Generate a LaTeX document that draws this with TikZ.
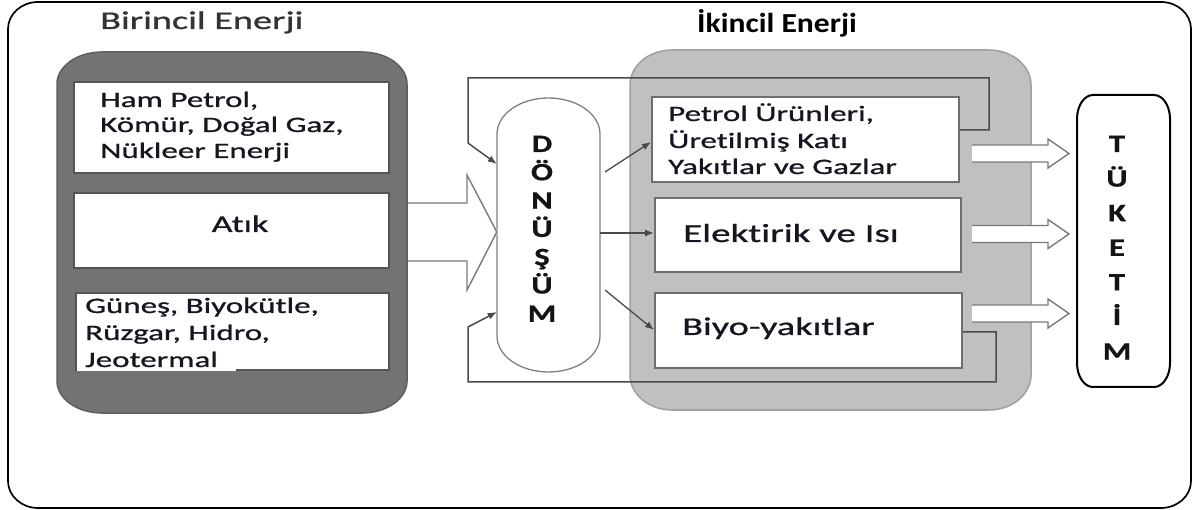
\documentclass[tikz,border=0pt]{standalone}
\usepackage{fontspec}
\setmainfont{Carlito}[FakeStretch=1.5, FakeBold=0.9, Ligatures=NoCommon]
\newfontfamily\titlefont{Carlito}[FakeStretch=1.15, Ligatures=NoCommon]
\newfontfamily\letterfont{Carlito}[FakeStretch=1.3, FakeBold=0.8, Ligatures=NoCommon]
\usetikzlibrary{arrows.meta}
\definecolor{dkfill}{HTML}{737373}
\definecolor{dkline}{HTML}{5E5E5E}
\definecolor{ltfill}{HTML}{C0C0C0}
\definecolor{ltline}{HTML}{A0A0A0}
\definecolor{bxline}{HTML}{555555}
\definecolor{txt}{HTML}{161620}
\definecolor{ttl}{HTML}{333333}
\definecolor{conn}{HTML}{4A4A4A}
\definecolor{arrline}{HTML}{7A7A7A}
% elliptical rounded rectangle: options, x1, y1, x2, y2, rx, ry
\newcommand\ERect[7]{\path[#1] (#2+#6,#3) -- (#4-#6,#3)
  arc[start angle=270,end angle=360,x radius=#6,y radius=#7] -- (#4,#5-#7)
  arc[start angle=0,end angle=90,x radius=#6,y radius=#7] -- (#2+#6,#5)
  arc[start angle=90,end angle=180,x radius=#6,y radius=#7] -- (#2,#3+#7)
  arc[start angle=180,end angle=270,x radius=#6,y radius=#7] -- cycle;}
\newcommand\OutArr[1]{%
  \fill[white] (972,#1-8.5) -- (1048,#1-8.5) -- (1048,#1-14.5) -- (1069,#1)
     -- (1048,#1+14.5) -- (1048,#1+8.5) -- (972,#1+8.5) -- cycle;
  \draw[outarrow] (972,#1-8.5) -- (1048,#1-8.5) -- (1048,#1-14.5) -- (1069,#1)
     -- (1048,#1+14.5) -- (1048,#1+8.5) -- (972,#1+8.5);}
\begin{document}
\begin{tikzpicture}[x=1pt,y=-1pt,
  wboxL/.style={draw=bxline, fill=white, line width=2pt, inner sep=0, rectangle},
  wboxR/.style={draw=bxline!85, fill=white, line width=2pt, inner sep=0, rectangle},
  bodytext/.style={anchor=base west, inner sep=0, text=txt, font=\fontsize{22}{26}\selectfont},
  bigtext/.style={bodytext, font=\fontsize{25.5}{30}\selectfont},
  letter/.style={anchor=base, inner sep=0, text=black!92, font=\letterfont\bfseries\fontsize{25}{29}\selectfont},
  loopline/.style={draw=conn, line width=1.5pt, -{Latex[length=9pt,width=7pt]}},
  thin/.style={draw=conn, line width=1.3pt, -{Latex[length=9pt,width=7pt]}},
  outarrow/.style={draw=arrline, line width=1.4pt, line join=miter},
  bigarrow/.style={draw=arrline, line width=1.4pt},
]
\useasboundingbox (0,0) rectangle (1194,510);
% outer frame
\ERect{draw=black, line width=1.7pt}{8}{2}{1191}{508}{30}{27}
% titles
\node[anchor=base west, inner sep=0, text=ttl, font=\fontsize{25.5}{30}\selectfont] (bir) at (100,29) {Birincil Enerji};
\node[anchor=base west, inner sep=0, text=black, font=\titlefont\bfseries\fontsize{27.5}{32}\selectfont] (ikin) at (697,33) {İkincil Enerji};
% left dark container
\ERect{fill=dkfill, draw=dkline, line width=1.5pt}{57}{52}{407}{413}{45}{32}
\node[wboxL, minimum width=315pt, minimum height=91pt] (hp) at (231.5,127.5) {};
\node[wboxL, minimum width=315pt, minimum height=75pt] (atik) at (231.5,230.5) {};
\node[wboxL, minimum width=313pt, minimum height=77pt] (gun) at (232.5,331.5) {};
\fill[white] (77,356) rectangle (236,371.5);
\node[bodytext] (hp1) at (100,107) {Ham Petrol,};
\node[bodytext] (hp2) at (100,132) {Kömür, Doğal Gaz,};
\node[bodytext] (hp3) at (100,158) {Nükleer Enerji};
\node[anchor=base, inner sep=0, text=txt, font=\fontsize{24}{28}\selectfont] (atikt) at (240,232) {Atık};
\node[bodytext] (gn1) at (85,313) {Güneş, Biyokütle,};
\node[bodytext] (gn2) at (85,340) {Rüzgar, Hidro,};
\node[bodytext] (gn3) at (85,367) {Jeotermal};
% right light container
\ERect{fill=ltfill, draw=ltline, line width=1.5pt}{630}{50}{1031}{410}{42}{35}
% boxes of secondary energy
\node[wboxR, minimum width=307pt, minimum height=85pt] (pet) at (805.5,139.5) {};
\node[wboxR, minimum width=306pt, minimum height=74pt] (elk) at (808,235) {};
\node[wboxR, minimum width=307pt, minimum height=75pt] (biyo) at (808.5,330.5) {};
\node[bodytext] (pt1) at (668,121) {Petrol Ürünleri,};
\node[bodytext] (pt2) at (668,148) {Üretilmiş Katı};
\node[bodytext] (pt3) at (668,174) {Yakıtlar ve Gazlar};
\node[bodytext, font=\fontsize{26}{30}\selectfont] (elkt) at (683,242) {Elektirik ve Isı};
\node[bigtext] (biyot) at (682,335) {Biyo-yakıtlar};
% conversion capsule
\node[inner sep=0, minimum width=103pt, minimum height=274pt] (don) at (548.5,235) {};
\ERect{fill=white, draw=black!50, line width=1.3pt}{497}{98}{600}{372}{51.5}{36}
\foreach \l [count=\i from 0] in {D,Ö,N,Ü,Ş,Ü,M}
  \node[letter] (d\i) at (542,152+28.3*\i) {\l};
% feedback loops
\coordinate (lt1) at (989,130);
\coordinate (lt2) at (989,78);
\coordinate (lt3) at (468,78);
\coordinate (lt4) at (468,143);
\draw[loopline] (pet.east |- 0,130) -- (lt1) -- (lt2) -- (lt3) -- (lt4) -- (don.west |- 0,164);
\coordinate (lb1) at (996,332);
\coordinate (lb2) at (996,382);
\coordinate (lb3) at (468,382);
\coordinate (lb4) at (468,327);
\draw[loopline] (biyo.east |- 0,332) -- (lb1) -- (lb2) -- (lb3) -- (lb4) -- (don.west |- 0,312);
% thin arrows out of conversion
\coordinate (o1) at (605,172);
\coordinate (o2) at (600,233);
\coordinate (o3) at (605,290);
\draw[thin] (o1) -- (pet.west |- 0,142);
\draw[thin] (o2) -- (elk.west |- 0,233);
\draw[thin] (o3) -- (biyo.west |- 0,330);
% big arrow from primary energy
\fill[white] (408,203) -- (467,203) -- (467,175) -- (498,232) -- (467,290) -- (467,261) -- (408,261) -- cycle;
\draw[bigarrow] (408,203) -- (467,203) -- (467,175) -- (don.west |- 0,232) -- (467,290) -- (467,261) -- (408,261);
% consumption
\node[inner sep=0, minimum width=93pt, minimum height=292pt] (tuk) at (1123.5,241) {};
\ERect{fill=white, draw=black, line width=2pt}{1077}{95}{1170}{387}{16}{24}
\foreach \l [count=\i from 0] in {T,Ü,K,E,T,İ,M}
  \node[letter] (t\i) at (1117,152+34.6*\i) {\l};
\OutArr{153.5}
\OutArr{234}
\OutArr{313.5}
\end{tikzpicture}
\end{document}
